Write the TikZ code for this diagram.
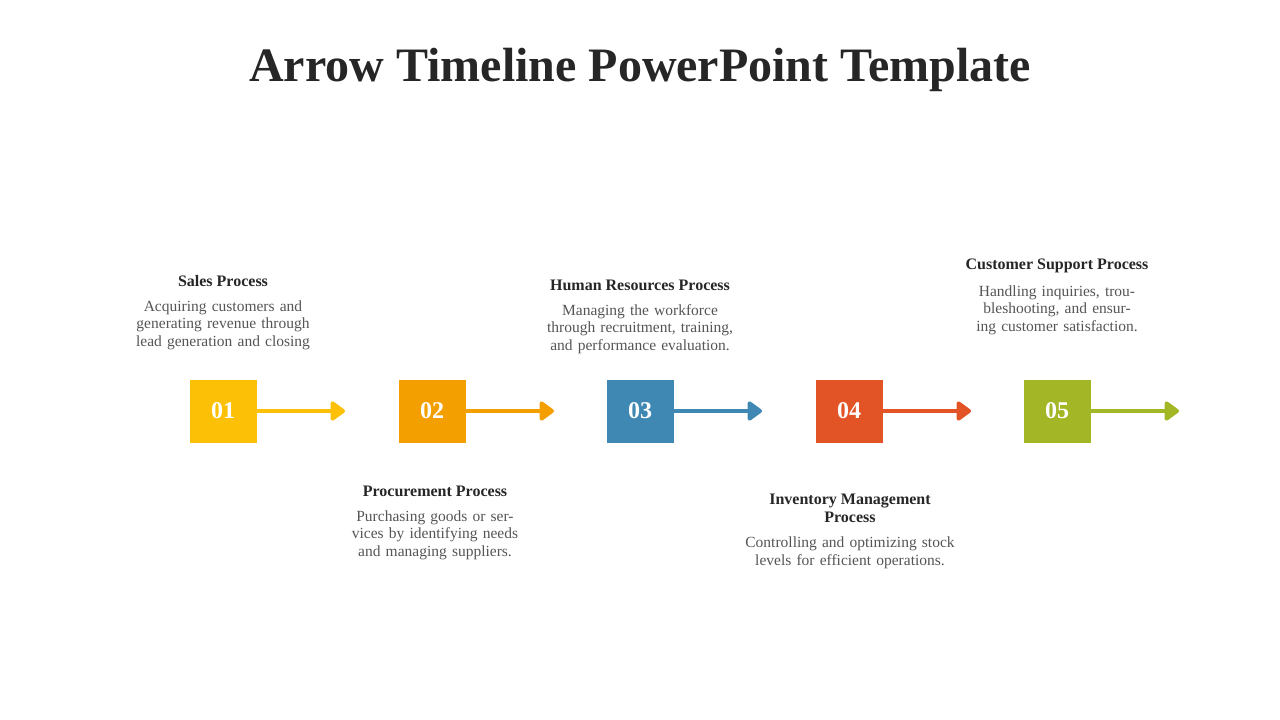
\documentclass[tikz,border=0pt]{standalone}
\usepackage{fontspec}
\setmainfont{Liberation Serif}
\usetikzlibrary{arrows.meta}
\definecolor{c1}{HTML}{FCC007}
\definecolor{c2}{HTML}{F49F00}
\definecolor{c3}{HTML}{3F88B4}
\definecolor{c4}{HTML}{E25426}
\definecolor{c5}{HTML}{A3B625}
\definecolor{tx}{HTML}{262626}
\definecolor{gy}{HTML}{555555}
\tikzset{
 numbox/.style={fill=#1, minimum width=67pt, minimum height=63pt, inner sep=0pt, text=white, font=\fontsize{24}{24}\selectfont\bfseries},
 arr/.style={draw=#1, line width=4pt, -{Triangle[length=16pt,width=22pt,round]}},
 head/.style={font=\fontsize{16}{18}\selectfont\bfseries, text=tx, align=center},
 body/.style={font=\fontsize{15.5}{17.5}\selectfont, text=gy, align=center, text width=240pt},
}
\begin{document}
\begin{tikzpicture}[x=1pt,y=-1pt]
\useasboundingbox (0,0) rectangle (1280,720);
\node[font=\fontsize{48}{50}\selectfont\bfseries, text=tx] (title) at (640,70) {Arrow Timeline PowerPoint Template};
\foreach \i/\x/\c in {1/223/c1,2/432/c2,3/640/c3,4/849/c4,5/1057/c5}{
  \node[numbox=\c] (b\i) at (\x,411) {0\i};
  \coordinate (e\i) at (\x+122,411);
  \draw[arr=\c] (b\i.east) -- (e\i);
}
\node[head] (h1) at (223,281) {Sales Process};
\node[body] (t1) at (223,325) {Acquiring customers and generating revenue through lead generation and closing};
\node[head] (h2) at (435,491) {Procurement Process};
\node[body] (t2) at (435,535) {Purchasing goods or services by identifying needs and managing suppliers.};
\node[head] (h3) at (640,285) {Human Resources Process};
\node[body] (t3) at (640,329) {Managing the workforce through recruitment, training, and performance evaluation.};
\node[head] (h4) at (850,508) {Inventory Management\\Process};
\node[body] (t4) at (850,553) {Controlling and optimizing stock levels for efficient operations.};
\node[head] (h5) at (1057,266) {Customer Support Process};
\node[body, text width=220pt] (t5) at (1057,310) {Handling inquiries, troubleshooting, and ensuring customer satisfaction.};
\end{tikzpicture}
\end{document}
